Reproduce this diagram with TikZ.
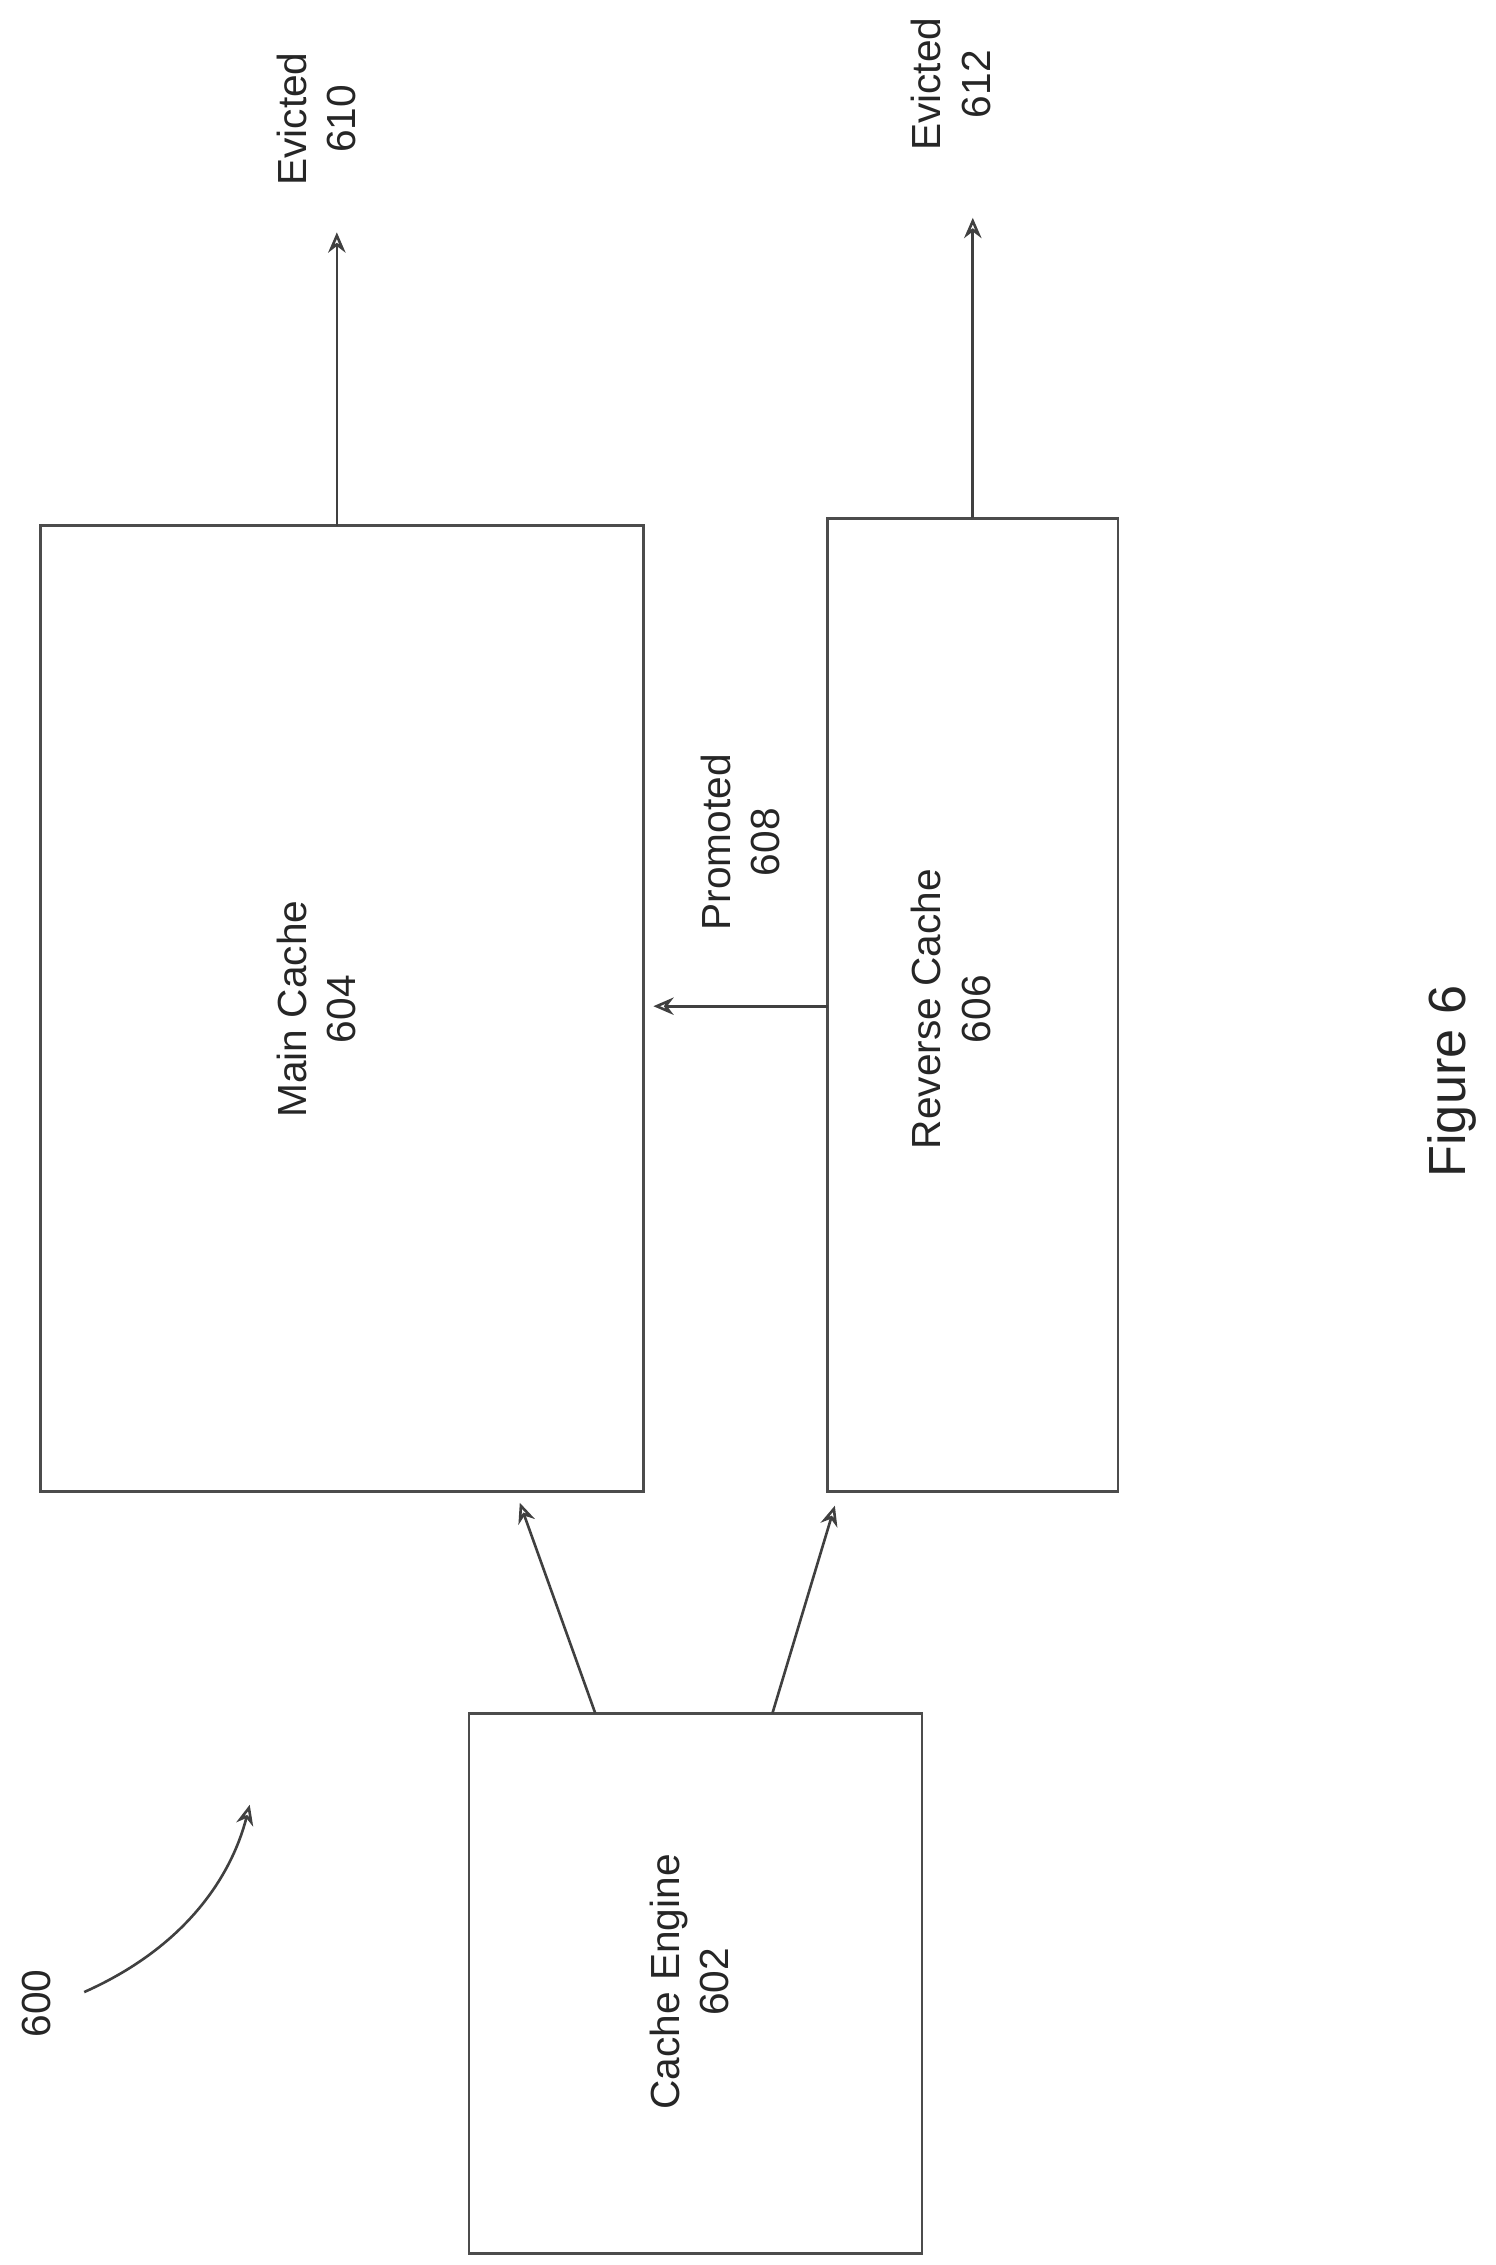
\documentclass[tikz,border=0pt]{standalone}
\usepackage{fontspec}
\setmainfont{Liberation Sans}
\usetikzlibrary{arrows.meta}
\begin{document}
\begin{tikzpicture}[x=0.5pt,y=-0.5pt,
  box/.style={draw=black!70,line width=1pt},
  conn/.style={draw=black!75,line width=0.9pt,-{Stealth[open,length=7pt,width=6pt]}},
  lbl/.style={rotate=90,align=center,font=\fontsize{14}{17}\selectfont,text=black!85}]
\path[use as bounding box] (0,0) rectangle (1030,1560);
\draw[box] (28,362) rectangle (443,1027);
\draw[box] (570,357) rectangle (770,1027);
\draw[box] (323,1180) rectangle (635,1552);
\node[lbl] (mc) at (218,695) {Main Cache\\604};
\node[lbl] (rc) at (655,695) {Reverse Cache\\606};
\node[lbl] (ce) at (475,1365) {Cache Engine\\602};
\coordinate (mctop) at (232,362);
\coordinate (mcend) at (232,160);
\coordinate (rctop) at (670,357);
\coordinate (rcend) at (670,150);
\coordinate (pa) at (570,693);
\coordinate (pb) at (450,693);
\coordinate (e1) at (410,1180);
\coordinate (m1) at (358,1035);
\coordinate (e2) at (532,1180);
\coordinate (r2) at (575,1037);
\draw[conn] (mctop) -- (mcend);
\draw[conn] (rctop) -- (rcend);
\draw[conn] (pa) -- (pb);
\draw[conn] (e1) -- (m1);
\draw[conn] (e2) -- (r2);
\node[lbl] (ev1) at (218,82) {Evicted\\610};
\node[lbl] (ev2) at (655,58) {Evicted\\612};
\node[lbl] (pr) at (510,580) {Promoted\\608};
\node[lbl] (n600) at (25,1380) {600};
\coordinate (c1) at (58,1372);
\coordinate (c2) at (172,1243);
\draw[conn] (c1) .. controls (130,1340) and (160,1290) .. (c2);
\node[rotate=90,font=\fontsize{18}{21}\selectfont,text=black!85] (fig) at (1000,745) {Figure 6};
\end{tikzpicture}
\end{document}
